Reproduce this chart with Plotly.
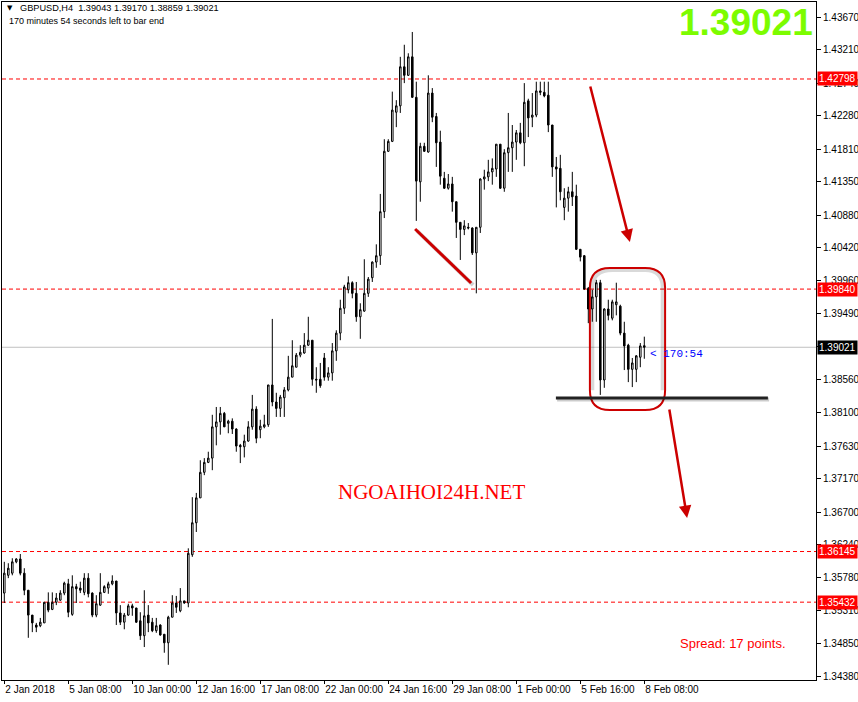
import plotly.graph_objects as go

# ---------------- data (GBPUSD H4) ----------------
time_labels = ["2 Jan 2018", "5 Jan 08:00", "10 Jan 00:00", "12 Jan 16:00", "17 Jan 08:00",
               "22 Jan 00:00", "24 Jan 16:00", "29 Jan 08:00", "1 Feb 00:00", "5 Feb 16:00", "8 Feb 08:00"]
label_bars = [0, 16, 32, 48, 64, 80, 96, 112, 128, 144, 160]

opens = [1.3556, 1.3581, 1.3584, 1.3600, 1.3604, 1.3584, 1.3560, 1.3525, 1.3511, 1.3510,
         1.3514, 1.3543, 1.3533, 1.3543, 1.3546, 1.3556, 1.3569, 1.3526, 1.3565, 1.3563,
         1.3557, 1.3577, 1.3556, 1.3525, 1.3539, 1.3557, 1.3563, 1.3569, 1.3573, 1.3528,
         1.3515, 1.3525, 1.3538, 1.3535, 1.3517, 1.3496, 1.3525, 1.3515, 1.3503, 1.3511,
         1.3498, 1.3486, 1.3522, 1.3542, 1.3531, 1.3545, 1.3542, 1.3610, 1.3655, 1.3690,
         1.3726, 1.3740, 1.3746, 1.3790, 1.3797, 1.3809, 1.3795, 1.3798, 1.3787, 1.3764,
         1.3762, 1.3770, 1.3790, 1.3815, 1.3786, 1.3790, 1.3793, 1.3849, 1.3825, 1.3816,
         1.3831, 1.3842, 1.3860, 1.3874, 1.3891, 1.3894, 1.3905, 1.3912, 1.3857, 1.3857,
         1.3887, 1.3860, 1.3866, 1.3897, 1.3922, 1.3957, 1.3983, 1.3993, 1.3978, 1.3945,
         1.3953, 1.3978, 1.4000, 1.4022, 1.4031, 1.4093, 1.4178, 1.4192, 1.4233, 1.4242,
         1.4297, 1.4285, 1.4311, 1.4254, 1.4135, 1.4185, 1.4177, 1.4260, 1.4227, 1.4191,
         1.4140, 1.4126, 1.4132, 1.4107, 1.4078, 1.4068, 1.4071, 1.4070, 1.4035, 1.4071,
         1.4139, 1.4142, 1.4149, 1.4153, 1.4188, 1.4126, 1.4176, 1.4183, 1.4191, 1.4204,
         1.4190, 1.4249, 1.4226, 1.4229, 1.4263, 1.4261, 1.4257, 1.4215, 1.4156, 1.4154,
         1.4099, 1.4112, 1.4121, 1.4115, 1.4040, 1.4031, 1.3985, 1.3956, 1.3973, 1.3993,
         1.3856, 1.3956, 1.3943, 1.3962, 1.3960, 1.3922, 1.3905, 1.3871, 1.3871, 1.3888,
         1.39043]
highs = [1.3600, 1.3598, 1.3605, 1.3605, 1.3611, 1.3591, 1.3560, 1.3525, 1.3514, 1.3521,
         1.3543, 1.3557, 1.3557, 1.3556, 1.3560, 1.3572, 1.3576, 1.3581, 1.3569, 1.3572,
         1.3584, 1.3584, 1.3557, 1.3553, 1.3584, 1.3567, 1.3572, 1.3581, 1.3573, 1.3539,
         1.3528, 1.3541, 1.3541, 1.3535, 1.3529, 1.3560, 1.3539, 1.3521, 1.3521, 1.3512,
         1.3498, 1.3524, 1.3553, 1.3552, 1.3563, 1.3545, 1.3619, 1.3691, 1.3697, 1.3743,
         1.3746, 1.3755, 1.3807, 1.3818, 1.3818, 1.3811, 1.3800, 1.3802, 1.3788, 1.3766,
         1.3779, 1.3798, 1.3835, 1.3819, 1.3800, 1.3807, 1.3849, 1.3942, 1.3838, 1.3835,
         1.3846, 1.3890, 1.3912, 1.3894, 1.3905, 1.3922, 1.3945, 1.3912, 1.3874, 1.3880,
         1.3894, 1.3874, 1.3908, 1.3926, 1.3969, 1.3990, 1.4002, 1.3995, 1.3994, 1.3964,
         1.4026, 1.4001, 1.4023, 1.4047, 1.4118, 1.4195, 1.4195, 1.4262, 1.4250, 1.4311,
         1.4328, 1.4316, 1.4346, 1.4276, 1.4190, 1.4190, 1.4285, 1.4267, 1.4232, 1.4207,
         1.4149, 1.4146, 1.4142, 1.4107, 1.4078, 1.4081, 1.4077, 1.4071, 1.4071, 1.4140,
         1.4152, 1.4166, 1.4168, 1.4188, 1.4188, 1.4181, 1.4232, 1.4215, 1.4208, 1.4218,
         1.4274, 1.4252, 1.4260, 1.4276, 1.4276, 1.4276, 1.4276, 1.4215, 1.4170, 1.4173,
         1.4126, 1.4128, 1.4149, 1.4131, 1.4040, 1.4032, 1.3987, 1.3983, 1.3997, 1.3997,
         1.3957, 1.3969, 1.3969, 1.3993, 1.3962, 1.3938, 1.3907, 1.3887, 1.3891, 1.3908,
         1.39170]
lows = [1.3542, 1.3577, 1.3581, 1.3598, 1.3581, 1.3553, 1.3493, 1.3501, 1.3501, 1.3508,
        1.3514, 1.3529, 1.3532, 1.3539, 1.3545, 1.3553, 1.3522, 1.3524, 1.3542, 1.3556,
        1.3553, 1.3550, 1.3522, 1.3522, 1.3538, 1.3556, 1.3555, 1.3567, 1.3511, 1.3511,
        1.3505, 1.3524, 1.3524, 1.3514, 1.3490, 1.3480, 1.3501, 1.3501, 1.3500, 1.3496,
        1.3472, 1.3455, 1.3522, 1.3528, 1.3529, 1.3541, 1.3536, 1.3607, 1.3642, 1.3690,
        1.3722, 1.3739, 1.3729, 1.3764, 1.3779, 1.3790, 1.3781, 1.3780, 1.3755, 1.3739,
        1.3747, 1.3769, 1.3786, 1.3767, 1.3774, 1.3788, 1.3790, 1.3819, 1.3804, 1.3804,
        1.3804, 1.3840, 1.3860, 1.3874, 1.3888, 1.3893, 1.3904, 1.3848, 1.3838, 1.3845,
        1.3855, 1.3855, 1.3855, 1.3883, 1.3912, 1.3949, 1.3978, 1.3971, 1.3938, 1.3914,
        1.3952, 1.3973, 1.3994, 1.4014, 1.4018, 1.4084, 1.4177, 1.4191, 1.4212, 1.4232,
        1.4274, 1.4284, 1.4253, 1.4080, 1.4107, 1.4177, 1.4176, 1.4219, 1.4156, 1.4131,
        1.4125, 1.4124, 1.4093, 1.4056, 1.4025, 1.4060, 1.4068, 1.4032, 1.3978, 1.4063,
        1.4124, 1.4136, 1.4131, 1.4142, 1.4125, 1.4121, 1.4149, 1.4149, 1.4166, 1.4188,
        1.4157, 1.4198, 1.4212, 1.4226, 1.4257, 1.4254, 1.4205, 1.4142, 1.4099, 1.4109,
        1.4081, 1.4093, 1.4101, 1.4039, 1.4023, 1.3983, 1.3936, 1.3938, 1.3938, 1.3835,
        1.3845, 1.3940, 1.3940, 1.3947, 1.3919, 1.3870, 1.3853, 1.3846, 1.3853, 1.3874,
        1.38859]
closes = [1.3584, 1.3591, 1.3600, 1.3604, 1.3584, 1.3560, 1.3525, 1.3514, 1.3508, 1.3515,
          1.3543, 1.3532, 1.3543, 1.3549, 1.3556, 1.3570, 1.3529, 1.3565, 1.3562, 1.3560,
          1.3577, 1.3555, 1.3525, 1.3541, 1.3557, 1.3565, 1.3569, 1.3573, 1.3528, 1.3515,
          1.3525, 1.3538, 1.3535, 1.3515, 1.3496, 1.3524, 1.3514, 1.3503, 1.3510, 1.3497,
          1.3486, 1.3522, 1.3542, 1.3536, 1.3545, 1.3542, 1.3612, 1.3655, 1.3690, 1.3726,
          1.3740, 1.3746, 1.3790, 1.3797, 1.3809, 1.3790, 1.3798, 1.3787, 1.3763, 1.3762,
          1.3770, 1.3790, 1.3815, 1.3774, 1.3791, 1.3793, 1.3849, 1.3825, 1.3816, 1.3832,
          1.3842, 1.3860, 1.3876, 1.3891, 1.3895, 1.3905, 1.3912, 1.3857, 1.3856, 1.3848,
          1.3860, 1.3866, 1.3897, 1.3922, 1.3957, 1.3987, 1.3993, 1.3978, 1.3945, 1.3955,
          1.3978, 1.3998, 1.4022, 1.4031, 1.4093, 1.4178, 1.4192, 1.4236, 1.4242, 1.4297,
          1.4285, 1.4311, 1.4254, 1.4136, 1.4185, 1.4178, 1.4260, 1.4226, 1.4190, 1.4143,
          1.4126, 1.4132, 1.4107, 1.4078, 1.4068, 1.4073, 1.4070, 1.4035, 1.4071, 1.4139,
          1.4142, 1.4149, 1.4154, 1.4188, 1.4126, 1.4176, 1.4183, 1.4191, 1.4204, 1.4190,
          1.4247, 1.4225, 1.4229, 1.4263, 1.4261, 1.4256, 1.4215, 1.4156, 1.4153, 1.4121,
          1.4112, 1.4121, 1.4114, 1.4040, 1.4029, 1.3984, 1.3956, 1.3973, 1.3993, 1.3856,
          1.3956, 1.3947, 1.3966, 1.3966, 1.3922, 1.3904, 1.3871, 1.3880, 1.3890, 1.3904,
          1.39021]

price_ticks = [1.43670, 1.43210, 1.42740, 1.42280, 1.41810, 1.41350, 1.40880, 1.40420, 1.39960,
               1.39490, 1.39030, 1.38560, 1.38100, 1.37630, 1.37170, 1.36700, 1.36240, 1.35780,
               1.35310, 1.34850, 1.34380]
level_lines = [1.42798, 1.39840, 1.36145, 1.35432]
bid_price = 1.39021
header_text = "GBPUSD,H4  1.39043 1.39170 1.38859 1.39021"
timer_text = "170 minutes 54 seconds left to bar end"

bars = list(range(len(opens)))

fig = go.Figure()
fig.add_trace(go.Candlestick(
    x=bars, open=opens, high=highs, low=lows, close=closes,
    increasing=dict(line=dict(color="black", width=1), fillcolor="white"),
    decreasing=dict(line=dict(color="black", width=1), fillcolor="black"),
    whiskerwidth=0, hoverinfo="skip", showlegend=False,
))

shapes = []
for lv in level_lines:
    shapes.append(dict(type="line", xref="paper", x0=0, x1=1, yref="y", y0=lv, y1=lv,
                       line=dict(color="#ff0000", width=1, dash="4px,3px"), layer="below"))
shapes.append(dict(type="line", xref="paper", x0=0, x1=1, yref="y", y0=bid_price, y1=bid_price,
                   line=dict(color="#c0c0c0", width=1), layer="below"))

# hand-drawn annotations (in bar index / price units)
red = "#cc0000"
shapes.append(dict(type="line", x0=103.2, y0=1.40659, x1=117.2, y1=1.39897,
                   line=dict(color="rgba(0,0,0,0.18)", width=4)))
shapes.append(dict(type="line", x0=102.7, y0=1.40686, x1=116.7, y1=1.39925,
                   line=dict(color=red, width=3)))
# rounded rectangle
x0, x1, yt, yb, rx, ry = 146.4, 165.2, 1.40137, 1.38137, 5.0, 0.0028
path = (f"M {x0+rx},{yt} L {x1-rx},{yt} Q {x1},{yt} {x1},{yt-ry} L {x1},{yb+ry} "
        f"Q {x1},{yb} {x1-rx},{yb} L {x0+rx},{yb} Q {x0},{yb} {x0},{yb+ry} "
        f"L {x0},{yt-ry} Q {x0},{yt} {x0+rx},{yt} Z")
sx, sy = 0.6, 0.0003
path_s = (f"M {x0+rx+sx},{yt-sy} L {x1-rx},{yt-sy} Q {x1-sx},{yt-sy} {x1-sx},{yt-ry} L {x1-sx},{yb+ry} "
          f"M {x0+sx},{yb+ry} L {x0+sx},{yt-ry} Q {x0+sx},{yt-sy} {x0+rx+sx},{yt-sy}")
shapes.append(dict(type="path", path=path_s, line=dict(color="rgba(0,0,0,0.15)", width=4)))
shapes.append(dict(type="path", path=path, line=dict(color=red, width=2)))
# support line
shapes.append(dict(type="line", x0=138.2, y0=1.38285, x1=191.2, y1=1.38285,
                   line=dict(color="rgba(0,0,0,0.2)", width=4)))
shapes.append(dict(type="line", x0=137.9, y0=1.38306, x1=190.9, y1=1.38306,
                   line=dict(color="#222222", width=3)))

annotations = []
# right-axis price boxes
for lv in level_lines:
    annotations.append(dict(xref="paper", x=1, xanchor="left", xshift=1, yref="y", y=lv,
                            text=f"{lv:.5f}", showarrow=False, bgcolor="#ff0000",
                            font=dict(color="white", size=10, family="Liberation Sans"),
                            borderpad=1))
annotations.append(dict(xref="paper", x=1, xanchor="left", xshift=1, yref="y", y=bid_price,
                        text=f"{bid_price:.5f}", showarrow=False, bgcolor="#000000",
                        font=dict(color="white", size=10, family="Liberation Sans"), borderpad=1))
# arrows
annotations.append(dict(x=156.4, y=1.40503, ax=-40, ay=-157, text="", showarrow=True,
                        arrowhead=2, arrowsize=1, arrowwidth=2.5, arrowcolor=red))
annotations.append(dict(x=170.7, y=1.36617, ax=-18, ay=-110, text="", showarrow=True,
                        arrowhead=2, arrowsize=1, arrowwidth=2.5, arrowcolor=red))
# texts
annotations.append(dict(x=106.9, y=1.36983, text="NGOAIHOI24H.NET", showarrow=False,
                        font=dict(family="Liberation Serif", size=21, color="#ff0000")))
annotations.append(dict(x=168.3, y=1.34857, xanchor="left", text="Spread: 17 points.", showarrow=False,
                        font=dict(family="Liberation Sans", size=13, color="#ff0000")))
annotations.append(dict(x=161.0, y=1.38926, xanchor="left", text="&lt; 170:54", showarrow=False,
                        font=dict(family="Liberation Mono", size=11, color="#0000ff")))
annotations.append(dict(xref="paper", yref="paper", x=0.9985, y=0.9705, xanchor="right", yanchor="middle",
                        text="<b>1.39021</b>", showarrow=False,
                        font=dict(family="Liberation Sans", size=37, color="#7cfc00")))
annotations.append(dict(xref="paper", yref="paper", x=0.0037, y=0.9912, xanchor="left", yanchor="middle",
                        text="▼", showarrow=False, font=dict(family="DejaVu Sans", size=7, color="black")))
annotations.append(dict(xref="paper", yref="paper", x=0.0197, y=0.9912, xanchor="left", yanchor="middle",
                        text=header_text, showarrow=False,
                        font=dict(family="Liberation Sans", size=9.2, color="black")))
annotations.append(dict(xref="paper", yref="paper", x=0.0061, y=0.972, xanchor="left", yanchor="middle",
                        text=timer_text, showarrow=False,
                        font=dict(family="Liberation Sans", size=9, color="black")))

# the tick label fully hidden behind the bid box is left blank
tick_text = [("" if abs(v - bid_price) < 0.0002 else f"{v:.5f}") for v in price_ticks]

fig.update_layout(
    width=858, height=702,
    margin=dict(l=2, r=42, t=2, b=22),
    paper_bgcolor="white", plot_bgcolor="white",
    showlegend=False,
    shapes=shapes, annotations=annotations,
    boxgap=0.45,
    xaxis=dict(range=[-0.575, 202.925], rangeslider=dict(visible=False),
               tickvals=label_bars, ticktext=time_labels, ticks="outside", ticklen=3,
               tickcolor="black", ticklabelposition="outside right", tickangle=0,
               tickfont=dict(family="Liberation Sans", size=10, color="black"),
               showgrid=False, zeroline=False, showline=True, linecolor="black",
               linewidth=1, mirror=True, fixedrange=True, automargin=False),
    yaxis=dict(range=[1.34336, 1.43882], side="right",
               tickvals=price_ticks, ticktext=tick_text,
               ticks="outside", ticklen=4, tickcolor="black",
               tickfont=dict(family="Liberation Sans", size=10, color="black"),
               showgrid=False, zeroline=False, showline=True, linecolor="black",
               linewidth=1, mirror=True, fixedrange=True, automargin=False),
)

fig.write_html("out.html", config={"displayModeBar": False},
               post_script="document.body.style.margin='0';")
